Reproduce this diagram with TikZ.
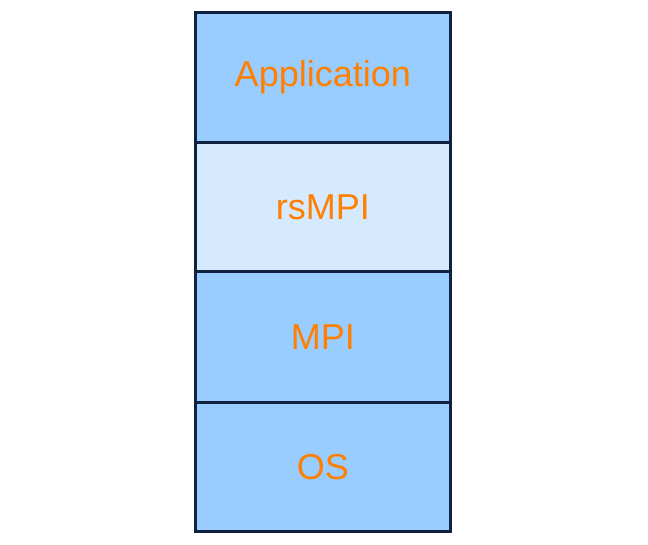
\documentclass[tikz,border=0pt]{standalone}
\usepackage{fontspec}
\setmainfont{Liberation Sans}
\definecolor{boxblue}{HTML}{99CCFF}
\definecolor{boxlight}{HTML}{D6EAFF}
\definecolor{edge}{HTML}{0F2340}
\definecolor{txt}{HTML}{FF8000}
\begin{document}
\begin{tikzpicture}[x=1pt,y=-1pt,
  layer/.style={draw=edge, line width=2.6pt, minimum width=255pt, minimum height=130pt,
    inner sep=0pt, text=txt, font=\fontsize{36}{43}\selectfont, anchor=north west}]
\useasboundingbox (0,0) rectangle (648,544);
\node[layer, fill=boxblue] (app) at (194,11) {Application};
\node[layer, fill=boxlight, minimum height=129pt] (rs) at (194,141) {rsMPI};
\node[layer, fill=boxblue, minimum height=131pt] (mpi) at (194,270) {MPI};
\node[layer, fill=boxblue, minimum height=129pt] (os) at (194,401) {OS};
\end{tikzpicture}
\end{document}
